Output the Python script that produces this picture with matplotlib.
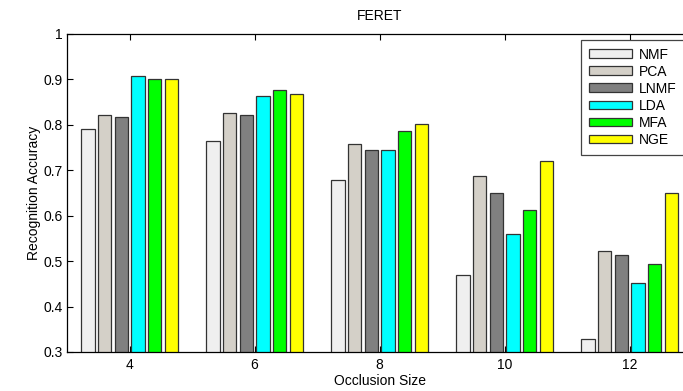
import matplotlib
matplotlib.use("Agg")
import matplotlib.pyplot as plt
import numpy as np

plt.rcParams['font.family'] = ['Liberation Sans', 'DejaVu Sans']

groups = ["4", "6", "8", "10", "12"]
methods = ["NMF", "PCA", "LNMF", "LDA", "MFA", "NGE"]
nmf  = [0.791, 0.763, 0.678, 0.469, 0.328]
pca  = [0.821, 0.825, 0.758, 0.686, 0.523]
lnmf = [0.817, 0.821, 0.744, 0.650, 0.514]
lda  = [0.906, 0.863, 0.744, 0.560, 0.451]
mfa  = [0.900, 0.877, 0.785, 0.613, 0.493]
nge  = [0.900, 0.868, 0.801, 0.721, 0.650]
series = [nmf, pca, lnmf, lda, mfa, nge]
colors = ["#efefef", "#d4d0c8", "#808080", "#00ffff", "#00ff00", "#ffff00"]

FS = 10

fig = plt.figure(figsize=(6.83, 3.91), dpi=100)
ax = fig.add_axes([67/683, 1-352/391, 625/683, (352-33.6)/391])

x = np.arange(len(groups))
n = len(series)
step = 0.8 / n
width = step * 0.8
for i, (vals, c, m) in enumerate(zip(series, colors, methods)):
    off = (i - (n - 1) / 2) * step
    ax.bar(x + off, vals, width, color=c, edgecolor="#333333", linewidth=0.9, label=m, zorder=2)

ax.set_xlim(-0.5, 4.5)
ax.set_ylim(0.3, 1.0)
ax.set_xticks(x)
ax.set_xticklabels(groups)
ax.set_yticks([0.3, 0.4, 0.5, 0.6, 0.7, 0.8, 0.9, 1.0])
ax.set_yticklabels(["0.3", "0.4", "0.5", "0.6", "0.7", "0.8", "0.9", "1"])
ax.tick_params(direction="in", length=4, width=0.8, labelsize=FS, top=True, right=True)
ax.tick_params(axis="x", pad=4.5)
ax.tick_params(axis="y", pad=3)
for s in ax.spines.values():
    s.set_linewidth(0.9)
    s.set_zorder(3)

ax.set_title("FERET", fontsize=FS, pad=10)
ax.set_xlabel("Occlusion Size", fontsize=FS, labelpad=1.5)
ax.set_ylabel("Recognition Accuracy", fontsize=FS, labelpad=2)

leg = ax.legend(loc="upper left", bbox_to_anchor=(581/683, 1-40/391),
                bbox_transform=fig.transFigure, fontsize=FS,
                handlelength=3.15, handleheight=0.6, labelspacing=0.22,
                handletextpad=0.5, borderpad=0.55, borderaxespad=0,
                fancybox=False, framealpha=1, edgecolor="#444444")
leg.get_frame().set_linewidth(0.9)

fig.savefig("out.png", dpi=100)
